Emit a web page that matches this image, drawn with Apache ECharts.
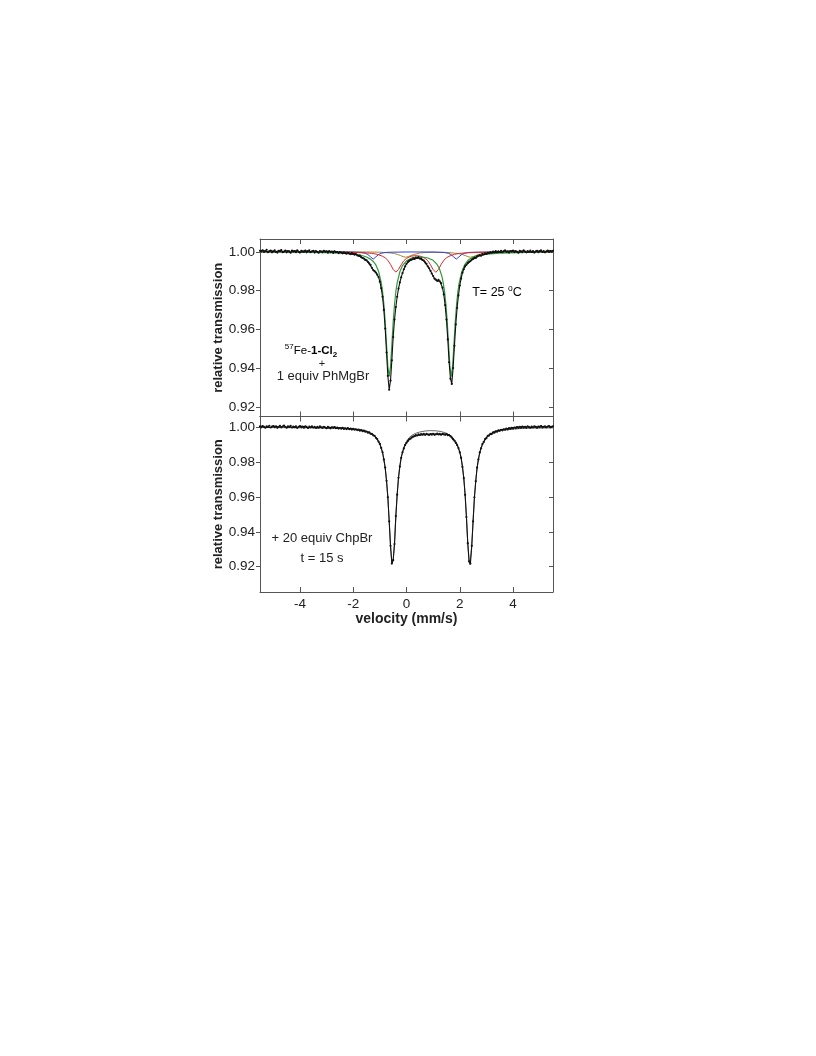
<!DOCTYPE html>
<html>
<head>
<meta charset="utf-8">
<script src="https://cdn.jsdelivr.net/npm/echarts@6/dist/echarts.min.js"></script>
<style>
html,body{margin:0;padding:0;background:#fff;}
#chart{width:816px;height:1056px;}
</style>
</head>
<body>
<div id="chart"></div>
<script>
// Velocity channels (mm/s), shared by both measured spectra
const velocity = [
-5.50,-5.45,-5.40,-5.35,-5.30,-5.25,-5.20,-5.15,-5.10,-5.05,-5.00,-4.95,-4.90,-4.85,-4.80,-4.75,-4.70,-4.65,-4.60,-4.55,
-4.50,-4.45,-4.40,-4.35,-4.30,-4.25,-4.20,-4.15,-4.10,-4.05,-4.00,-3.95,-3.90,-3.85,-3.80,-3.75,-3.70,-3.65,-3.60,-3.55,
-3.50,-3.45,-3.40,-3.35,-3.30,-3.25,-3.20,-3.15,-3.10,-3.05,-3.00,-2.95,-2.90,-2.85,-2.80,-2.75,-2.70,-2.65,-2.60,-2.55,
-2.50,-2.45,-2.40,-2.35,-2.30,-2.25,-2.20,-2.15,-2.10,-2.05,-2.00,-1.95,-1.90,-1.85,-1.80,-1.75,-1.70,-1.65,-1.60,-1.55,
-1.50,-1.45,-1.40,-1.35,-1.30,-1.25,-1.20,-1.15,-1.10,-1.05,-1.00,-0.95,-0.90,-0.85,-0.80,-0.75,-0.70,-0.65,-0.60,-0.55,
-0.50,-0.45,-0.40,-0.35,-0.30,-0.25,-0.20,-0.15,-0.10,-0.05,0.00,0.05,0.10,0.15,0.20,0.25,0.30,0.35,0.40,0.45,
0.50,0.55,0.60,0.65,0.70,0.75,0.80,0.85,0.90,0.95,1.00,1.05,1.10,1.15,1.20,1.25,1.30,1.35,1.40,1.45,
1.50,1.55,1.60,1.65,1.70,1.75,1.80,1.85,1.90,1.95,2.00,2.05,2.10,2.15,2.20,2.25,2.30,2.35,2.40,2.45,
2.50,2.55,2.60,2.65,2.70,2.75,2.80,2.85,2.90,2.95,3.00,3.05,3.10,3.15,3.20,3.25,3.30,3.35,3.40,3.45,
3.50,3.55,3.60,3.65,3.70,3.75,3.80,3.85,3.90,3.95,4.00,4.05,4.10,4.15,4.20,4.25,4.30,4.35,4.40,4.45,
4.50,4.55,4.60,4.65,4.70,4.75,4.80,4.85,4.90,4.95,5.00,5.05,5.10,5.15,5.20,5.25,5.30,5.35,5.40,5.45,
5.50];

// Top panel: 57Fe-1-Cl2 + 1 equiv PhMgBr, measured transmission
const topTransmission = [
1.0005,1.0001,1.0008,0.9999,1.0004,1.0010,0.9998,1.0003,1.0006,0.9997,1.0002,1.0007,1.0000,0.9996,1.0005,1.0003,1.0009,0.9998,1.0001,1.0006,
0.9997,1.0004,1.0002,0.9995,1.0006,1.0001,1.0004,0.9998,1.0007,1.0000,0.9996,1.0005,1.0002,0.9999,1.0006,0.9997,1.0003,1.0008,0.9998,1.0002,
1.0005,0.9996,1.0003,1.0000,0.9995,1.0004,1.0001,0.9997,1.0005,0.9999,1.0002,0.9995,1.0003,0.9998,1.0001,0.9994,1.0002,0.9997,0.9999,0.9993,
0.9998,0.9996,0.9992,0.9997,0.9993,0.9990,0.9995,0.9991,0.9988,0.9993,0.9989,0.9985,0.9988,0.9982,0.9979,0.9980,0.9972,0.9968,0.9965,0.9958,
0.9956,0.9948,0.9940,0.9932,0.9917,0.9906,0.9900,0.9893,0.9882,0.9870,0.9846,0.9812,0.9768,0.9700,0.9604,0.9480,0.9360,0.9288,0.9335,0.9440,
0.9560,0.9650,0.9715,0.9768,0.9810,0.9842,0.9868,0.9890,0.9910,0.9925,0.9938,0.9947,0.9953,0.9958,0.9960,0.9966,0.9963,0.9970,0.9968,0.9972,
0.9965,0.9966,0.9958,0.9955,0.9945,0.9938,0.9925,0.9915,0.9902,0.9888,0.9875,0.9862,0.9856,0.9850,0.9855,0.9848,0.9838,0.9815,0.9780,0.9725,
0.9650,0.9548,0.9430,0.9345,0.9318,0.9400,0.9515,0.9625,0.9710,0.9775,0.9826,0.9862,0.9892,0.9910,0.9925,0.9933,0.9941,0.9948,0.9952,0.9960,
0.9963,0.9970,0.9968,0.9976,0.9979,0.9983,0.9980,0.9988,0.9986,0.9992,0.9989,0.9995,0.9993,0.9998,0.9995,1.0001,0.9997,1.0003,0.9998,1.0002,
0.9999,1.0005,0.9998,1.0003,1.0007,0.9999,1.0002,0.9996,1.0004,1.0001,1.0006,0.9998,1.0003,1.0000,0.9995,1.0005,1.0002,0.9998,1.0007,1.0001,
0.9997,1.0004,1.0000,1.0006,0.9999,1.0003,0.9996,1.0002,1.0005,0.9998,1.0003,1.0008,1.0000,1.0004,0.9997,1.0002,1.0006,0.9999,1.0004,1.0001,
1.0005];

// Top panel fit components (subspectra)
const greenV = [-5.5,-4,-3,-2.5,-2,-1.7,-1.5,-1.35,-1.25,-1.15,-1.05,-0.95,-0.9,-0.85,-0.8,-0.75,-0.7,-0.65,-0.6,-0.55,-0.5,-0.45,-0.4,-0.35,-0.25,-0.15,0,0.2,0.4,0.6,0.8,1.0,1.13,1.23,1.33,1.38,1.43,1.48,1.53,1.58,1.63,1.68,1.73,1.78,1.83,1.88,1.93,1.98,2.08,2.18,2.33,2.5,2.7,3,3.5,4.5,5.5];
const greenT = [0.9999,0.9998,0.9996,0.9994,0.9989,0.9982,0.9973,0.9962,0.9950,0.9932,0.9900,0.9842,0.9796,0.9730,0.9638,0.9522,0.9408,0.9357,0.9407,0.9520,0.9636,0.9728,0.9794,0.9840,0.9897,0.9929,0.9953,0.9968,0.9973,0.9973,0.9968,0.9956,0.9938,0.9915,0.9873,0.9839,0.9794,0.9728,0.9636,0.9520,0.9407,0.9356,0.9408,0.9521,0.9637,0.9729,0.9795,0.9841,0.9899,0.9932,0.9959,0.9972,0.9981,0.9988,0.9993,0.9997,0.9999];

const redV = [-5.5,-3.5,-2.5,-2,-1.6,-1.3,-1.1,-0.9,-0.8,-0.7,-0.6,-0.5,-0.45,-0.4,-0.35,-0.3,-0.2,-0.1,0,0.1,0.2,0.35,0.5,0.6,0.7,0.8,0.9,1.0,1.05,1.1,1.15,1.2,1.3,1.4,1.5,1.6,1.8,2.0,2.3,2.7,3.2,4,5.5];
const redT = [1.0000,0.9999,0.9998,0.9997,0.9995,0.9992,0.9987,0.9977,0.9969,0.9956,0.9935,0.9909,0.9899,0.9895,0.9899,0.9909,0.9933,0.9954,0.9966,0.9973,0.9978,0.9980,0.9978,0.9973,0.9966,0.9954,0.9933,0.9908,0.9898,0.9894,0.9898,0.9909,0.9935,0.9956,0.9969,0.9977,0.9987,0.9992,0.9995,0.9997,0.9998,0.9999,1.0000];

const blueV = [-5.5,-2.5,-2,-1.75,-1.65,-1.55,-1.45,-1.4,-1.35,-1.3,-1.25,-1.2,-1.15,-1.1,-1.05,-0.95,-0.85,-0.75,-0.5,0,0.5,1.0,1.37,1.47,1.57,1.67,1.72,1.77,1.82,1.87,1.92,1.97,2.02,2.07,2.17,2.27,2.37,2.6,3,4,5.5];
const blueT = [1.0000,0.9999,0.9998,0.9997,0.9995,0.9992,0.9986,0.9981,0.9974,0.9966,0.9962,0.9966,0.9974,0.9981,0.9986,0.9992,0.9995,0.9997,0.9998,0.9999,0.9999,0.9999,0.9997,0.9995,0.9992,0.9986,0.9981,0.9974,0.9966,0.9962,0.9966,0.9974,0.9981,0.9986,0.9992,0.9995,0.9997,0.9998,0.9999,1.0000,1.0000];

const oliveV = [-5.5,-2.5,-1.5,-1.0,-0.8,-0.6,-0.45,-0.33,-0.23,-0.13,-0.03,0.07,0.17,0.27,0.37,0.5,0.7,1.0,1.4,1.6,1.8,1.95,2.1,2.2,2.3,2.4,2.5,2.6,2.7,2.85,3.0,3.2,3.5,4.5,5.5];
const oliveT = [1.0000,1.0000,0.9999,0.9998,0.9996,0.9994,0.9991,0.9986,0.9981,0.9975,0.9972,0.9975,0.9981,0.9986,0.9989,0.9994,0.9996,0.9997,0.9997,0.9996,0.9993,0.9991,0.9986,0.9981,0.9975,0.9972,0.9975,0.9981,0.9986,0.9991,0.9994,0.9997,0.9998,0.9999,1.0000];

// Bottom panel: + 20 equiv ChpBr, t = 15 s, measured transmission
const bottomTransmission = [
1.0004,0.9999,1.0006,1.0002,0.9997,1.0005,1.0001,1.0008,0.9998,1.0003,1.0006,1.0000,1.0004,0.9996,1.0002,1.0007,0.9999,1.0003,1.0009,1.0001,
0.9997,1.0004,1.0002,1.0007,0.9998,1.0003,1.0000,1.0005,0.9996,1.0002,1.0006,0.9999,1.0003,0.9997,1.0004,1.0001,0.9995,1.0003,0.9999,1.0005,
0.9998,1.0002,0.9996,1.0001,0.9997,1.0004,0.9999,0.9995,1.0002,0.9998,0.9994,1.0001,0.9997,0.9993,0.9999,0.9996,1.0000,0.9994,0.9997,0.9992,
0.9995,0.9991,0.9996,0.9990,0.9993,0.9989,0.9994,0.9988,0.9991,0.9986,0.9990,0.9985,0.9988,0.9983,0.9986,0.9980,0.9983,0.9977,0.9980,0.9974,
0.9975,0.9968,0.9970,0.9962,0.9961,0.9953,0.9950,0.9939,0.9932,0.9917,0.9904,0.9881,0.9856,0.9815,0.9768,0.9692,0.9598,0.9460,0.9320,0.9218,
0.9238,0.9330,0.9490,0.9613,0.9710,0.9774,0.9824,0.9856,0.9878,0.9898,0.9910,0.9921,0.9930,0.9934,0.9941,0.9946,0.9948,0.9954,0.9952,0.9958,
0.9955,0.9960,0.9957,0.9962,0.9956,0.9961,0.9958,0.9955,0.9960,0.9957,0.9962,0.9956,0.9959,0.9963,0.9958,0.9961,0.9957,0.9962,0.9959,0.9956,
0.9960,0.9954,0.9955,0.9948,0.9940,0.9930,0.9922,0.9910,0.9897,0.9880,0.9856,0.9824,0.9772,0.9708,0.9612,0.9485,0.9335,0.9230,0.9218,0.9320,
0.9460,0.9598,0.9690,0.9768,0.9815,0.9855,0.9879,0.9903,0.9915,0.9931,0.9937,0.9950,0.9952,0.9961,0.9960,0.9970,0.9968,0.9976,0.9974,0.9981,
0.9979,0.9985,0.9982,0.9988,0.9985,0.9991,0.9987,0.9994,0.9990,0.9996,0.9992,0.9998,0.9994,1.0000,0.9995,1.0002,0.9997,1.0003,0.9998,1.0001,
0.9996,1.0004,1.0000,0.9997,1.0003,0.9999,1.0005,1.0001,0.9996,1.0003,1.0000,1.0006,0.9998,1.0002,1.0004,0.9999,1.0003,1.0006,0.9999,1.0002,
1.0005];

// Bottom panel fit (doublet)
const fitV = [-5.5,-4.5,-3.5,-3,-2.5,-2.0,-1.75,-1.5,-1.3,-1.15,-1.0,-0.9,-0.8,-0.75,-0.7,-0.65,-0.6,-0.55,-0.53,-0.5,-0.45,-0.4,-0.35,-0.3,-0.25,-0.2,-0.1,0,0.1,0.2,0.35,0.5,0.7,0.9,1.1,1.3,1.5,1.7,1.8,1.9,2.0,2.05,2.1,2.15,2.2,2.25,2.3,2.35,2.38,2.4,2.45,2.5,2.55,2.6,2.65,2.7,2.8,2.9,3.0,3.2,3.5,4.0,4.5,5.5];
const fitT = [0.9998,0.9997,0.9996,0.9995,0.9993,0.9988,0.9983,0.9974,0.9960,0.9941,0.9903,0.9855,0.9766,0.9695,0.9596,0.9463,0.9318,0.9222,0.9212,0.9234,0.9334,0.9488,0.9617,0.9712,0.9778,0.9827,0.9885,0.9918,0.9940,0.9953,0.9965,0.9972,0.9978,0.9980,0.9979,0.9975,0.9965,0.9946,0.9929,0.9904,0.9860,0.9826,0.9776,0.9711,0.9616,0.9487,0.9333,0.9233,0.9212,0.9221,0.9317,0.9463,0.9595,0.9694,0.9765,0.9817,0.9881,0.9917,0.9939,0.9963,0.9980,0.9989,0.9994,0.9996];

// Tick values
const xTicks = [-4, -2, 0, 2, 4];
const yTicks = [0.92, 0.94, 0.96, 0.98, 1.00];

const zip = (xs, ys) => xs.map((x, i) => [x, ys[i]]);

const FONT = '"Liberation Sans", Arial, Helvetica, sans-serif';
const AX = '#555';

function xAx(grid, pos, withLabels) {
  return {
    type: 'value', gridIndex: grid, position: pos, min: -5.5, max: 5.5,
    axisLine: { show: true, onZero: false, lineStyle: { color: AX, width: 1 } },
    axisTick: { show: true, inside: true, length: 5, customValues: xTicks, lineStyle: { color: AX } },
    axisLabel: withLabels ? { show: true, customValues: xTicks, fontFamily: FONT, fontSize: 13.5, color: '#222', margin: 5 } : { show: false },
    splitLine: { show: false },
    name: withLabels ? 'velocity (mm/s)' : '',
    nameLocation: 'middle', nameGap: 19,
    nameTextStyle: { fontFamily: FONT, fontSize: 14, fontWeight: 'bold', color: '#222' }
  };
}
function yAx(grid, pos, min, max, withLabels) {
  return {
    type: 'value', gridIndex: grid, position: pos, min: min, max: max,
    axisLine: { show: true, onZero: false, lineStyle: { color: AX, width: 1 } },
    axisTick: { show: true, inside: !withLabels, length: 4, customValues: yTicks, lineStyle: { color: AX } },
    axisLabel: withLabels ? { show: true, customValues: yTicks, formatter: v => v.toFixed(2), fontFamily: FONT, fontSize: 13.5, color: '#222', margin: 5 } : { show: false },
    splitLine: { show: false },
    name: withLabels ? 'relative transmission' : '',
    nameLocation: 'middle', nameGap: 35,
    nameTextStyle: { fontFamily: FONT, fontSize: 13, fontWeight: 'bold', color: '#222' }
  };
}

const chart = echarts.init(document.getElementById('chart'), null, { renderer: 'canvas' });

const lineS = (name, xi, yi, data, color, width, z) => ({
  name, type: 'line', xAxisIndex: xi, yAxisIndex: yi, data,
  showSymbol: false, symbol: 'none', smooth: false, animation: false, z: z,
  lineStyle: { color, width }
});

chart.setOption({
  animation: false,
  backgroundColor: '#fff',
  grid: [
    { left: 260, right: 263, top: 239, height: 177.5 },
    { left: 260, right: 263, top: 416.5, height: 175.5 }
  ],
  xAxis: [xAx(0, 'bottom', false), xAx(0, 'top', false), xAx(1, 'bottom', true), xAx(1, 'top', false)],
  yAxis: [yAx(0, 'left', 0.915, 1.0066, true), yAx(0, 'right', 0.915, 1.0066, false),
          yAx(1, 'left', 0.9055, 1.0061, true), yAx(1, 'right', 0.9055, 1.0061, false)],
  series: [
    lineS('olive', 0, 0, zip(oliveV, oliveT), '#a08c2a', 1, 2),
    lineS('blue', 0, 0, zip(blueV, blueT), '#2f3fe0', 1, 2),
    lineS('red', 0, 0, zip(redV, redT), '#e0262a', 1, 2),
    lineS('green', 0, 0, zip(greenV, greenT), '#2e9a3a', 1.2, 2),
    {
      name: 'top data', type: 'line', xAxisIndex: 0, yAxisIndex: 0,
      data: zip(velocity, topTransmission), symbol: 'circle', symbolSize: 2.2, showSymbol: true,
      itemStyle: { color: '#111' }, lineStyle: { color: '#111', width: 1.1 }, z: 3, animation: false
    },
    lineS('bottom fit', 2, 2, zip(fitV, fitT), '#666', 1, 2),
    {
      name: 'bottom data', type: 'line', xAxisIndex: 2, yAxisIndex: 2,
      data: zip(velocity, bottomTransmission), symbol: 'circle', symbolSize: 2.2, showSymbol: true,
      itemStyle: { color: '#111' }, lineStyle: { color: '#111', width: 1.1 }, z: 3, animation: false
    }
  ],
  graphic: [
    { type: 'text', x: 311, y: 351, z: 10, style: {
        text: '{sup|57}{n|Fe-}{b|1-Cl}{sub|2}', align: 'center', verticalAlign: 'middle',
        rich: {
          n: { fontFamily: FONT, fontSize: 11.5, color: '#222', lineHeight: 16 },
          b: { fontFamily: FONT, fontSize: 11.5, fontWeight: 'bold', color: '#222', lineHeight: 16 },
          sup: { fontFamily: FONT, fontSize: 8, color: '#222', lineHeight: 8, verticalAlign: 'top' },
          sub: { fontFamily: FONT, fontSize: 8, fontWeight: 'bold', color: '#222', lineHeight: 8, verticalAlign: 'bottom' }
        } } },
    { type: 'text', x: 322, y: 364, z: 10, style: { text: '+', font: '11px ' + FONT, fill: '#222', align: 'center', verticalAlign: 'middle' } },
    { type: 'text', x: 323, y: 376, z: 10, style: { text: '1 equiv PhMgBr', font: '13px ' + FONT, fill: '#222', align: 'center', verticalAlign: 'middle' } },
    { type: 'text', x: 497, y: 293, z: 10, style: {
        text: '{n|T= 25 }{sup|o}{n|C}', align: 'center', verticalAlign: 'middle',
        rich: {
          n: { fontFamily: FONT, fontSize: 12.5, color: '#222', lineHeight: 18 },
          sup: { fontFamily: FONT, fontSize: 8.5, color: '#222', lineHeight: 9, verticalAlign: 'top' }
        } } },
    { type: 'text', x: 322, y: 538, z: 10, style: { text: '+ 20 equiv ChpBr', font: '13px ' + FONT, fill: '#222', align: 'center', verticalAlign: 'middle' } },
    { type: 'text', x: 322, y: 558, z: 10, style: { text: 't = 15 s', font: '13px ' + FONT, fill: '#222', align: 'center', verticalAlign: 'middle' } }
  ]
});
</script>
</body>
</html>
